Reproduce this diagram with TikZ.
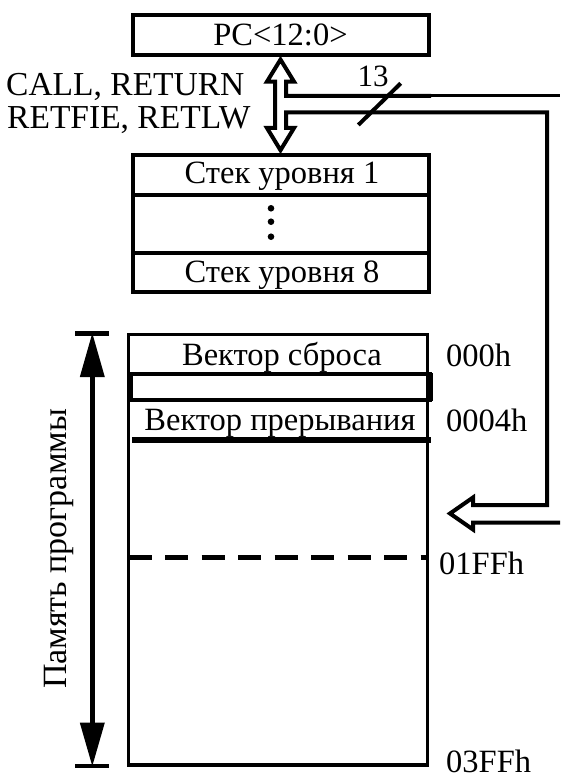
\documentclass[tikz,border=0pt]{standalone}
\usepackage{fontspec}
\setmainfont{Liberation Serif}
\usetikzlibrary{calc}
\begin{document}
\begin{tikzpicture}[x=1pt,y=-1pt,line join=miter,
  frame/.style={draw, line width=4pt, inner sep=0pt, outer sep=0pt},
  txt/.style={font=\fontsize{32.5}{36}\selectfont, inner sep=0pt, anchor=base},
  addr/.style={txt, anchor=base west},
  bus/.style={line width=4pt, line join=miter}]
\useasboundingbox (0,0) rectangle (560,778);
% PC register
\node[frame, minimum width=296pt, minimum height=40pt] (pc) at (280.5,34.6) {};
\node[txt] (pct) at (280.5,46) {PC<12:0>};
% stack
\node[frame, minimum width=296pt, minimum height=40.6pt] (s1) at (280.5,175) {};
\node[frame, minimum width=296pt, minimum height=57.7pt] (s2) at (280.5,224.15) {};
\node[frame, minimum width=296pt, minimum height=38.5pt] (s3) at (280.5,272.25) {};
\node[txt] (s1t) at (282,183) {Стек уровня 1};
\node[txt] (s3t) at (282,282) {Стек уровня 8};
\fill (271,208.3) circle[radius=3.3pt];
\fill (271,221.7) circle[radius=3.3pt];
\fill (271,236.7) circle[radius=3.3pt];
% instruction labels
\node[addr, font=\fontsize{33.5}{37}\selectfont] (l1) at (6,96) {CALL, RETURN};
\node[addr, font=\fontsize{33.5}{37}\selectfont] (l2) at (7,129) {RETFIE, RETLW};
% hollow double arrow and bus
\coordinate (at) at ($(pc.south)+(0,5)$);
\coordinate (ab) at ($(s1.north)+(0,-4.5)$);
\draw[bus] (431,96) -- (286,96) -- (286,81.6) -- (294,81.6) -- (at) -- (267,81.6) -- (275,81.6)
  -- (275,128) -- (267,128) -- (ab) -- (294,128) -- (286,128) -- (286,112.5)
  -- (547,112.5) -- (547,505) -- (473,505) -- (473,497.5) -- (450,513.5)
  -- (473,529.5) -- (473,522.5) -- (560,522.5);
\draw[line width=3pt] (431,96) -- (560,96);
\draw[line width=4pt] (358.3,125) -- (400.7,83.3);
\node[txt, font=\fontsize{31}{34}\selectfont] (n13) at (373,87) {13};
% program memory
\node[draw, line width=3.5pt, inner sep=0pt, minimum width=299pt, minimum height=430.5pt] (mem) at (278,549.75) {};
\draw[line width=4pt] (128.5,374) -- (427.5,374);
\draw[line width=4pt] (131,374) rectangle (430,400);
\draw[line width=6pt] (430,373) -- (430,401);
\draw[line width=5.5pt] (132,440) -- (431,440);
\draw[line width=5pt, dash pattern=on 23pt off 13.5pt] (128.5,557.3) -- (427.5,557.3);
\node[txt] (v1) at (282,365) {Вектор сброса};
\node[txt] (v2) at (280,430) {Вектор прерывания};
\node[addr] (a0) at (446,366) {000h};
\node[addr] (a4) at (446,431) {0004h};
\node[addr] (a1) at (439,574) {01FFh};
\node[addr] (a3) at (446,772.5) {03FFh};
% size arrow
\coordinate (mt) at (92.3,333.3);
\coordinate (mb) at (92.3,766);
\draw[line width=4.5pt] ($(mt)+(-17,0)$) -- ($(mt)+(17,0)$);
\draw[line width=4.5pt] ($(mb)+(-17,0)$) -- ($(mb)+(17,0)$);
\draw[line width=4.5pt] ($(mt)+(0,40)$) -- ($(mb)+(0,-40)$);
\fill (mt) -- ($(mt)+(-12.5,43.7)$) -- ($(mt)+(12.5,43.7)$) -- cycle;
\fill (mb) -- ($(mb)+(-12.5,-43.3)$) -- ($(mb)+(12.5,-43.3)$) -- cycle;
\node[txt, rotate=90, font=\fontsize{34}{38}\selectfont] (pm) at (66,549) {Память программы};
\end{tikzpicture}
\end{document}
